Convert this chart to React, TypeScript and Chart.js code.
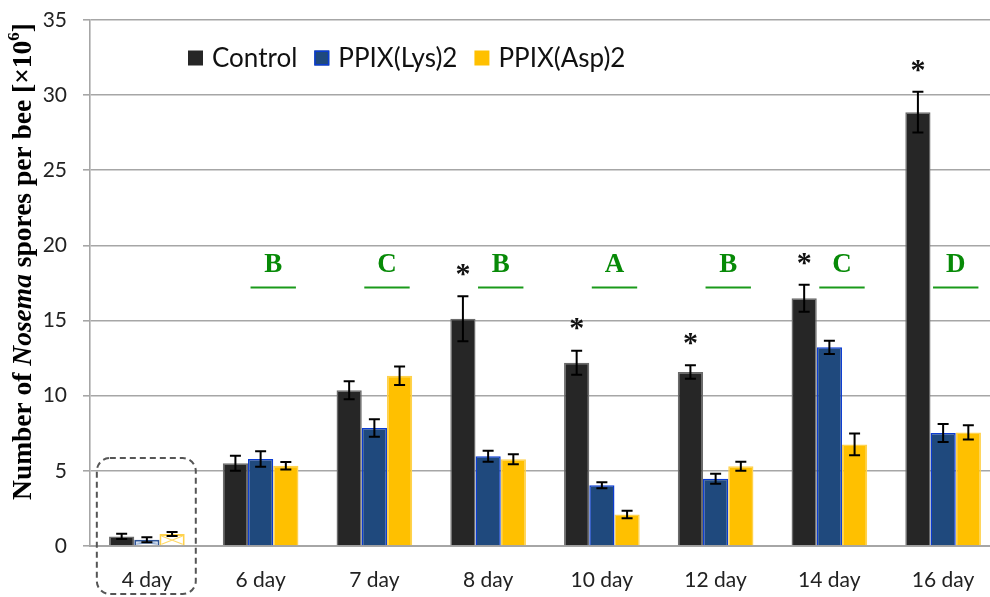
import React, { useEffect, useRef } from "react";
import { Chart, registerables } from "chart.js";

Chart.register(...registerables);

const categories = ["4 day", "6 day", "7 day", "8 day", "10 day", "12 day", "14 day", "16 day"];
const seriesNames = ["Control", "PPIX(Lys)2", "PPIX(Asp)2"];
const controlValues = [0.64, 5.5, 10.36, 15.12, 12.2, 11.58, 16.48, 28.87];
const controlErrors = [0.18, 0.5, 0.6, 1.5, 0.8, 0.45, 0.9, 1.35];
const lysValues = [0.42, 5.79, 7.85, 5.97, 4.04, 4.48, 13.22, 7.52];
const lysErrors = [0.17, 0.52, 0.58, 0.37, 0.2, 0.33, 0.44, 0.6];
const aspValues = [0.8, 5.34, 11.33, 5.77, 2.1, 5.3, 6.76, 7.56];
const aspErrors = [0.13, 0.25, 0.62, 0.33, 0.25, 0.3, 0.72, 0.47];
const groupLetters = ["", "B", "C", "B", "A", "B", "C", "D"];
const significant = [false, false, false, true, true, true, true, true];
const yMin = 0;
const yMax = 35;
const yStep = 5;
const letterLevel = 18.7;
const underlineLevel = 17.2;
const boxTopLevel = 5.85;

const TICK_FONT = "Lato, 'Open Sans', sans-serif";
const SERIF = "'Liberation Serif', 'DejaVu Serif', serif";
const GRID = "#a6a6a6";

const fills = ["#262626", "#1F497D", "#FFC000"];
const borders = ["#6b6b6b", "#0a3bd1", "#ffd24d"];

const annotPlugin = {
  id: "annot",
  afterDatasetsDraw(chart: any) {
    const ctx = chart.ctx as CanvasRenderingContext2D;
    const ys = chart.scales.y;
    const vals = [controlValues, lysValues, aspValues];
    const errs = [controlErrors, lysErrors, aspErrors];
    [1, 2].forEach((d) => {
      const el = chart.getDatasetMeta(d).data[0];
      const p = el.getProps(["x", "y", "base", "width"], true);
      ctx.save();
      ctx.strokeStyle = d === 1 ? "#8ea9d1" : "#ffd966";
      ctx.lineWidth = 1.2;
      ctx.beginPath();
      ctx.moveTo(p.x - p.width / 2 + 2, p.y + 2);
      ctx.lineTo(p.x + p.width / 2 - 2, p.base - 1);
      ctx.moveTo(p.x + p.width / 2 - 2, p.y + 2);
      ctx.lineTo(p.x - p.width / 2 + 2, p.base - 1);
      ctx.stroke();
      ctx.restore();
    });
    ctx.save();
    ctx.strokeStyle = "#000";
    ctx.lineWidth = 2;
    for (let d = 0; d < 3; d++) {
      const meta = chart.getDatasetMeta(d);
      meta.data.forEach((el: any, i: number) => {
        const x = el.x;
        const hi = ys.getPixelForValue(vals[d][i] + errs[d][i]);
        const lo = ys.getPixelForValue(vals[d][i] - errs[d][i]);
        const cw = 5.5;
        ctx.beginPath();
        ctx.moveTo(x, hi);
        ctx.lineTo(x, lo);
        ctx.moveTo(x - cw, hi);
        ctx.lineTo(x + cw, hi);
        ctx.moveTo(x - cw, lo);
        ctx.lineTo(x + cw, lo);
        ctx.stroke();
      });
    }
    ctx.restore();
  },
  afterDraw(chart: any) {
    const ctx = chart.ctx as CanvasRenderingContext2D;
    const ys = chart.scales.y;
    const xs = chart.scales.x;
    const area = chart.chartArea;
    const m0 = chart.getDatasetMeta(0).data;
    const m1 = chart.getDatasetMeta(1).data;
    const m2 = chart.getDatasetMeta(2).data;

    ctx.save();
    ctx.fillStyle = "#111";
    ctx.font = `bold 30px ${SERIF}`;
    ctx.textAlign = "center";
    ctx.textBaseline = "middle";
    significant.forEach((s, i) => {
      if (!s) return;
      const top = ys.getPixelForValue(controlValues[i] + controlErrors[i]);
      ctx.fillText("*", m0[i].x, top - 21);
    });
    ctx.restore();

    ctx.save();
    ctx.fillStyle = "#078a07";
    ctx.strokeStyle = "#1a9a1a";
    ctx.lineWidth = 2;
    ctx.font = `bold 27px ${SERIF}`;
    ctx.textAlign = "center";
    ctx.textBaseline = "middle";
    groupLetters.forEach((L, i) => {
      if (!L) return;
      const cx = (m1[i].x + m2[i].x) / 2;
      const w = m1[i].width;
      ctx.fillText(L, cx, ys.getPixelForValue(letterLevel));
      const ly = ys.getPixelForValue(underlineLevel);
      ctx.beginPath();
      ctx.moveTo(cx - 0.9 * w, ly);
      ctx.lineTo(cx + 0.9 * w, ly);
      ctx.stroke();
    });
    ctx.restore();

    const cat = xs.getPixelForValue(1) - xs.getPixelForValue(0);
    const c0 = xs.getPixelForValue(0);
    ctx.save();
    ctx.strokeStyle = "#555";
    ctx.lineWidth = 2;
    ctx.setLineDash([6, 4]);
    ctx.beginPath();
    const bx = c0 - cat * 0.44;
    const bw = cat * 0.87;
    const by = ys.getPixelForValue(boxTopLevel);
    const bh = chart.height - 3 - by;
    (ctx as any).roundRect(bx, by, bw, bh, 13);
    ctx.stroke();
    ctx.restore();

    ctx.save();
    ctx.font = `26px ${TICK_FONT}`;
    ctx.textBaseline = "middle";
    ctx.textAlign = "left";
    let lx = area.left + 98;
    const ly = 58;
    seriesNames.forEach((n, d) => {
      ctx.fillStyle = fills[d];
      ctx.fillRect(lx, ly - 7.5, 15, 15);
      if (d === 1) {
        ctx.strokeStyle = "#0a3bd1";
        ctx.lineWidth = 1.5;
        ctx.strokeRect(lx + 0.75, ly - 6.75, 13.5, 13.5);
      }
      ctx.fillStyle = "#111";
      ctx.fillText(n, lx + 24, ly + 1);
      lx += 24 + ctx.measureText(n).width + 17;
    });
    ctx.restore();

    ctx.save();
    const parts = [
      { t: "Number of ", f: "bold", sup: false },
      { t: "Nosema", f: "italic bold", sup: false },
      { t: " spores per bee [×10", f: "bold", sup: false },
      { t: "6", f: "bold", sup: true },
      { t: "]", f: "bold", sup: false },
    ];
    const targetLen = 477;
    const measure = (size: number) =>
      parts.reduce((acc, p) => {
        ctx.font = `${p.f} ${p.sup ? size * 0.62 : size}px ${SERIF}`;
        return acc + ctx.measureText(p.t).width;
      }, 0);
    const base = 20;
    const size = (base * targetLen) / measure(base);
    const total = measure(size);
    ctx.translate(24, 261.5);
    ctx.rotate(-Math.PI / 2);
    ctx.fillStyle = "#000";
    ctx.textBaseline = "middle";
    ctx.textAlign = "left";
    let tx = -total / 2;
    parts.forEach((p) => {
      ctx.font = `${p.f} ${p.sup ? size * 0.62 : size}px ${SERIF}`;
      ctx.fillText(p.t, tx, p.sup ? -size * 0.33 : 0);
      tx += ctx.measureText(p.t).width;
    });
    ctx.restore();
  },
};

export default function App() {
  const ref = useRef<HTMLCanvasElement | null>(null);
  useEffect(() => {
    document.body.style.margin = "0";
    const canvas = ref.current!;
    const mk = (d: number, values: number[]) => ({
      label: seriesNames[d],
      data: values,
      backgroundColor: values.map((_, i) => (i === 0 && d > 0 ? "#ffffff" : fills[d])),
      borderColor: values.map((_, i) => (i === 0 && d === 1 ? "#2f5597" : borders[d])),
      borderWidth: values.map((_, i) => (i === 0 && d > 0 ? 2 : 1.5)),
      barPercentage: 1,
      categoryPercentage: 0.665,
    });
    const chart = new Chart(canvas, {
      type: "bar",
      data: {
        labels: categories,
        datasets: [mk(0, controlValues), mk(1, lysValues), mk(2, aspValues)],
      },
      options: {
        animation: false,
        responsive: false,
        devicePixelRatio: 1,
        layout: { padding: { top: 20, right: 3, left: 0, bottom: 0 } },
        plugins: { legend: { display: false }, tooltip: { enabled: false } },
        scales: {
          x: {
            grid: { display: false },
            border: { display: true, color: GRID, width: 2 },
            ticks: { font: { family: TICK_FONT, size: 21 }, color: "#222", padding: 14 },
            afterFit: (s: any) => {
              s.height = 51;
              s.paddingLeft = 0;
              s.paddingRight = 0;
            },
          },
          y: {
            min: yMin,
            max: yMax,
            ticks: { stepSize: yStep, font: { family: TICK_FONT, size: 21 }, color: "#222", padding: 16 },
            grid: { color: GRID, lineWidth: 1.6, tickLength: 7 },
            border: { color: GRID, width: 1.6 },
            afterFit: (s: any) => {
              s.width = 90;
              s.paddingTop = 0;
              s.paddingBottom = 0;
            },
          },
        },
      },
      plugins: [annotPlugin],
    } as any);
    return () => chart.destroy();
  }, []);
  return (
    <div style={{ width: 990, height: 597, overflow: "hidden", position: "relative", background: "#fff" }}>
      <canvas ref={ref} width={1003} height={597} style={{ display: "block" }} />
    </div>
  );
}
